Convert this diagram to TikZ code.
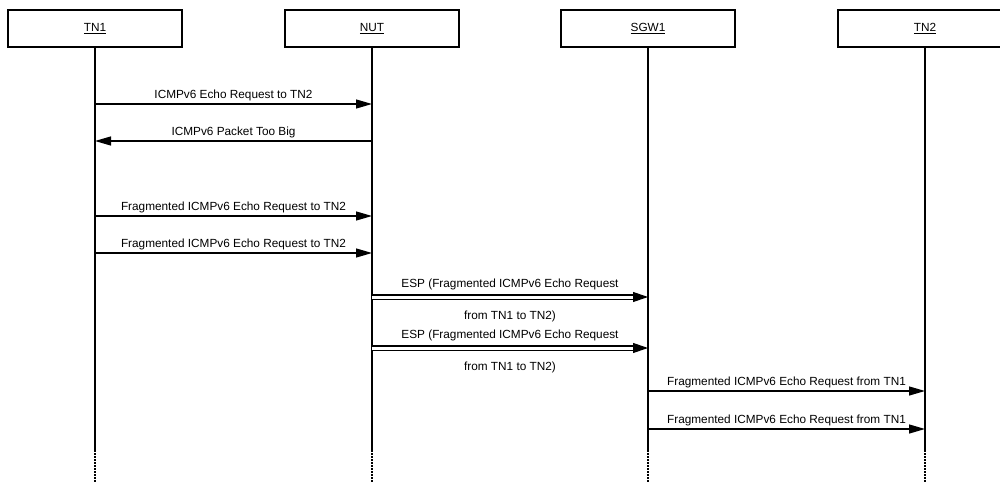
\documentclass[tikz,border=0pt]{standalone}
\usepackage{fontspec}
\setmainfont{Liberation Sans}
\usetikzlibrary{arrows.meta}
\begin{document}
\begin{tikzpicture}[x=1pt,y=-1pt,
  actor/.style={draw,line width=1.4pt,minimum width=174pt,minimum height=37pt,inner sep=0pt,font=\fontsize{11.8}{13}\selectfont},
  life/.style={line width=1.6pt},
  lifedot/.style={line width=1.6pt,dash pattern=on 1.5pt off 1.5pt},
  msg/.style={line width=1.3pt,-{Triangle[length=16pt,width=9pt]}},
  dmsg/.style={double,double distance=3pt,line width=1.1pt,-{Triangle[length=15pt,width=10pt]}},
  lbl/.style={font=\fontsize{11.8}{13}\selectfont,inner sep=0pt}]
\useasboundingbox (0,0) rectangle (1000,484);
\node[actor] (tn1) at (95,28.5) {\underline{TN1}};
\node[actor] (nut) at (372,28.5) {\underline{NUT}};
\node[actor] (sgw) at (648,28.5) {\underline{SGW1}};
\node[actor] (tn2) at (925,28.5) {\underline{TN2}};
\foreach \n in {tn1,nut,sgw,tn2}{
  \coordinate (\n e) at (\n.south |- 0,450);
  \coordinate (\n d) at (\n.south |- 0,483);
  \draw[life] (\n.south) -- (\n e);
  \draw[lifedot] (\n e) -- (\n d);
}
% messages
\draw[msg] (tn1 |- 0,104) -- node[lbl,above=2pt] {ICMPv6 Echo Request to TN2} (nut |- 0,104);
\draw[msg] (nut |- 0,141) -- node[lbl,above=2pt] {ICMPv6 Packet Too Big} (tn1 |- 0,141);
\draw[msg] (tn1 |- 0,216) -- node[lbl,above=2pt] {Fragmented ICMPv6 Echo Request to TN2} (nut |- 0,216);
\draw[msg] (tn1 |- 0,253) -- node[lbl,above=2pt] {Fragmented ICMPv6 Echo Request to TN2} (nut |- 0,253);
\draw[dmsg] (nut |- 0,297) -- node[lbl,above=7pt] {ESP (Fragmented ICMPv6 Echo Request} node[lbl,below=13pt] {from TN1 to TN2)} (sgw |- 0,297);
\draw[dmsg] (nut |- 0,348) -- node[lbl,above=7pt] {ESP (Fragmented ICMPv6 Echo Request} node[lbl,below=13pt] {from TN1 to TN2)} (sgw |- 0,348);
\draw[msg] (sgw |- 0,391) -- node[lbl,above=2pt] {Fragmented ICMPv6 Echo Request from TN1} (tn2 |- 0,391);
\draw[msg] (sgw |- 0,429) -- node[lbl,above=2pt] {Fragmented ICMPv6 Echo Request from TN1} (tn2 |- 0,429);
\end{tikzpicture}
\end{document}
